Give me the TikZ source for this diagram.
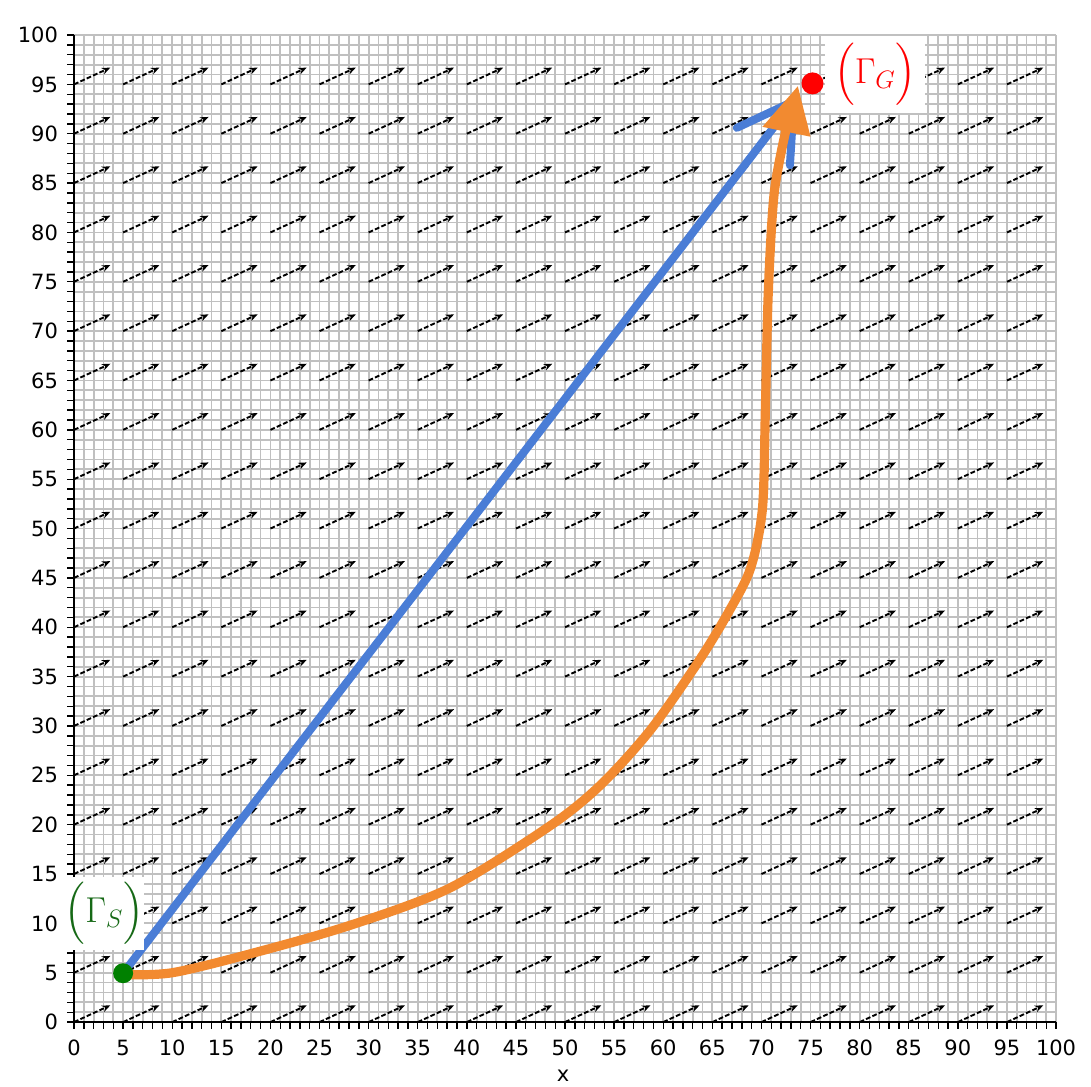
\RequirePackage{fix-cm}
\documentclass[tikz,border=0pt]{standalone}
\usepackage{exscale}
\usepackage{amsmath}
\usepackage{fontspec}
\newfontfamily\tickfont{DejaVu Sans}
\usetikzlibrary{arrows.meta}
\definecolor{gridgray}{RGB}{192,192,192}
\definecolor{pathblue}{RGB}{74,125,214}
\definecolor{pathorange}{RGB}{242,138,48}
\definecolor{startgreen}{RGB}{0,128,0}
\definecolor{labelgreen}{RGB}{22,105,22}
\begin{document}
\begin{tikzpicture}[x=4.91pt,y=4.935pt,
  gridline/.style={gridgray, line width=0.9pt},
  quiv/.style={black, line width=0.95pt, dash pattern=on 2.4pt off 1.1pt, -{Stealth[length=4.2pt,width=3.4pt]}},
  axisline/.style={black, line width=0.8pt},
  tickmark/.style={black, line width=0.7pt},
  ticklabel/.style={font=\tickfont\fontsize{10.5}{12}\selectfont, inner sep=0pt},
  blueline/.style={pathblue, line width=4pt, line cap=round, line join=round},
  orangeline/.style={pathorange, line width=4.6pt, line cap=round},
  dotstyle/.style={circle, inner sep=0pt},
  labelbox/.style={fill=white, inner sep=0pt, font=\fontsize{18}{21}\selectfont}
]
\useasboundingbox (-7.536,-6.484) rectangle (103.56,103.55);
\fill[white] (-7.536,-6.484) rectangle (103.56,103.55);
% grid
\foreach \i in {0,...,100} {
  \draw[gridline] (\i,0) -- (\i,100);
  \draw[gridline] (0,\i) -- (100,\i);
}
% quiver field
\foreach \a in {0,5,...,95} {
  \foreach \b in {0,5,...,95} {
    \draw[quiv] (\a,\b) -- ++(3.7,1.7);
  }
}
% axes
\draw[axisline] (0,100) -- (0,0) -- (100,0);
\foreach \i in {0,...,100} {
  \draw[tickmark] (\i,0) -- ++(0,-0.72);
  \draw[tickmark] (0,\i) -- ++(-0.72,0);
}
\foreach \i in {0,5,...,100} {
  \node[ticklabel, anchor=north] (xl\i) at (\i,-1.75) {\i};
  \node[ticklabel, anchor=east] (yl\i) at (-1.6,\i) {\i};
}
\node[ticklabel, anchor=north] (xlab) at (49.8,-4.85) {x};
% points
\coordinate (S) at (5,4.95);
\coordinate (bt) at (73.3,93.3);
\coordinate (bl) at (67.5,90.6);
\coordinate (br) at (72.9,86.8);
% blue path
\draw[blueline] (S) -- (bt);
\draw[blueline] (bl) -- (bt) -- (br);
% orange path
\draw[orangeline] plot[smooth, tension=0.5] coordinates {
  (5,4.8) (10,5.0) (17.9,6.9) (28.1,9.8) (38.3,13.6) (48.5,19.9)
  (53.6,24.0) (58.7,29.6) (63.7,36.7) (66.8,41.8) (68.9,46)
  (70.1,52) (70.4,62) (70.7,74) (71.3,84) (72.5,90.4)};
\coordinate (ot) at (73.7,94.8);
\coordinate (oa) at (70.1,90.7);
\coordinate (ob) at (75.0,89.7);
\fill[pathorange] (ot) -- (oa) -- (ob) -- cycle;
% start and goal
\node[dotstyle, fill=startgreen, minimum size=10pt] (start) at (S) {};
\node[dotstyle, fill=red, minimum size=11pt] (goal) at (75.2,95.1) {};
% labels
\node[labelbox, text=labelgreen, minimum width=39pt, minimum height=36.5pt] (lS) at (3.1,11.0) {$\Bigl(\Gamma_S\Bigr)$};
\node[labelbox, text=red, minimum width=50pt, minimum height=38.5pt] (lG) at (81.6,96.0) {$\Bigl(\Gamma_G\Bigr)$};
\end{tikzpicture}
\end{document}
